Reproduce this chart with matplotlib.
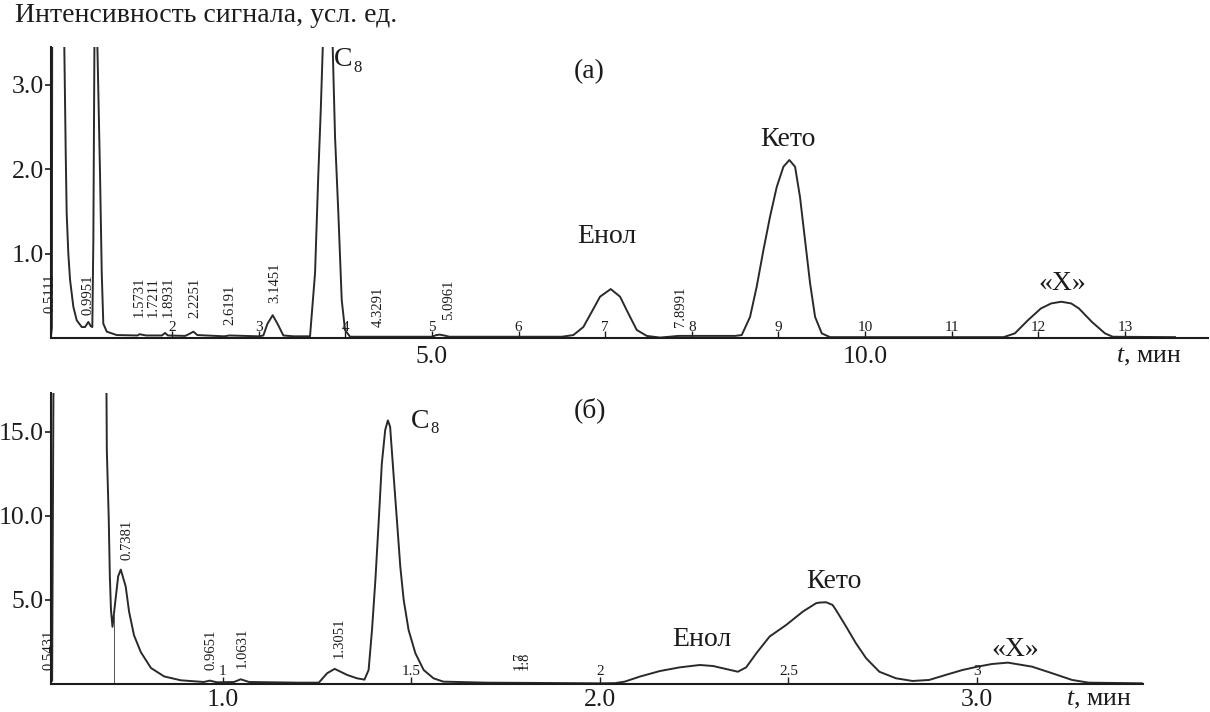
import matplotlib
matplotlib.use("Agg")
import matplotlib.pyplot as plt
import numpy as np

plt.rcParams['font.family'] = ['Liberation Serif', 'DejaVu Serif']
plt.rcParams['mathtext.fontset'] = 'custom'
plt.rcParams['mathtext.rm'] = 'Liberation Serif'
plt.rcParams['mathtext.it'] = 'Liberation Serif:italic'

# --- chromatogram (a): time, min / signal, arb. units
top_t = [0.603, 0.610, 0.616, 0.745, 0.754, 0.770, 0.781, 0.800, 0.820, 0.858,
         0.897, 0.955, 0.993, 1.031, 1.059, 1.077, 1.089, 1.101, 1.120, 1.136,
         1.147, 1.166, 1.186, 1.204, 1.244, 1.359, 1.600, 1.620, 1.700, 1.880,
         1.917, 1.950, 2.150, 2.200, 2.244, 2.290, 2.600, 2.660, 3.000, 3.052,
         3.100, 3.160, 3.220, 3.283, 3.400, 3.591, 3.649, 3.687, 3.715, 3.738,
         3.796, 3.853, 3.880, 3.918, 3.957, 3.995, 4.053, 5.000, 5.050, 5.090,
         5.140, 5.200, 6.500, 6.632, 6.747, 6.844, 6.940, 7.063, 7.171, 7.267,
         7.364, 7.479, 7.633, 7.850, 8.500, 8.576, 8.672, 8.749, 8.826, 8.903,
         8.980, 9.057, 9.126, 9.192, 9.249, 9.307, 9.365, 9.423, 9.500, 9.596,
         11.60, 11.73, 11.88, 12.03, 12.15, 12.265, 12.38, 12.47, 12.62, 12.77,
         12.86, 13.58]
top_v = [0.05, 0.12, 6.0, 6.0, 3.43, 2.19, 1.48, 1.00, 0.69, 0.37,
         0.21, 0.13, 0.13, 0.19, 0.14, 0.13, 1.16, 3.41, 6.0, 3.44,
         2.90, 1.95, 0.77, 0.17, 0.075, 0.035, 0.03, 0.045, 0.03, 0.03,
         0.06, 0.03, 0.025, 0.05, 0.075, 0.035, 0.02, 0.03, 0.02, 0.03,
         0.17, 0.27, 0.16, 0.03, 0.02, 0.02, 0.77, 1.95, 2.70, 3.44,
         8.0, 3.44, 2.38, 1.48, 0.45, 0.095, 0.015, 0.015, 0.035, 0.04,
         0.03, 0.015, 0.015, 0.035, 0.13, 0.31, 0.49, 0.58, 0.49, 0.29,
         0.095, 0.025, 0.005, 0.025, 0.025, 0.035, 0.25, 0.61, 1.04, 1.44,
         1.79, 2.03, 2.11, 2.03, 1.67, 1.16, 0.65, 0.25, 0.055, 0.01,
         0.01, 0.055, 0.21, 0.35, 0.41, 0.43, 0.41, 0.35, 0.19, 0.055,
         0.015, 0.01]
top_minutes = list(range(2, 14))
top_rt_labels = ['0.5111', '0.9951', '1.5731', '1.7211', '1.8931', '2.2251',
                 '2.6191', '3.1451', '4.3291', '5.0961', '7.8991']
top_rt_t = [0.589, 1.031, 1.617, 1.782, 1.955, 2.263, 2.667, 3.187, 4.38, 5.188, 7.87]
top_rt_v = [0.30, 0.27, 0.25, 0.25, 0.25, 0.24, 0.15, 0.41, 0.13, 0.21, 0.13]

# --- chromatogram (б)
bot_t = [0.548, 0.553, 0.690, 0.693, 0.698, 0.701, 0.704, 0.708, 0.717, 0.723,
         0.730, 0.743, 0.752, 0.765, 0.783, 0.810, 0.845, 0.889, 0.950, 0.966,
         0.985, 1.030, 1.048, 1.070, 1.200, 1.255, 1.277, 1.297, 1.330, 1.356,
         1.376, 1.387, 1.396, 1.405, 1.414, 1.422, 1.431, 1.438, 1.444, 1.453,
         1.462, 1.471, 1.480, 1.493, 1.511, 1.533, 1.559, 1.585, 1.700, 2.000,
         2.040, 2.066, 2.106, 2.159, 2.212, 2.265, 2.300, 2.335, 2.366, 2.388,
         2.415, 2.450, 2.494, 2.538, 2.573, 2.582, 2.600, 2.617, 2.626, 2.653,
         2.679, 2.706, 2.741, 2.785, 2.829, 2.873, 2.917, 2.961, 3.001, 3.040,
         3.082, 3.146, 3.199, 3.252, 3.296, 3.437]
bot_v = [0.2, 25.0, 25.0, 13.9, 9.9, 6.4, 4.4, 3.4, 5.2, 6.4,
         6.8, 5.8, 4.3, 2.9, 1.9, 0.95, 0.45, 0.22, 0.12, 0.2,
         0.1, 0.12, 0.28, 0.12, 0.08, 0.08, 0.64, 0.9, 0.54, 0.34,
         0.26, 0.83, 3.21, 6.19, 9.76, 13.1, 15.1, 15.67, 15.3, 12.5,
         9.76, 6.98, 5.0, 3.21, 1.83, 0.83, 0.34, 0.14, 0.08, 0.04,
         0.05, 0.14, 0.44, 0.77, 0.99, 1.13, 1.07, 0.89, 0.73, 0.99,
         1.83, 2.82, 3.51, 4.30, 4.80, 4.84, 4.86, 4.70, 4.40, 3.41,
         2.42, 1.53, 0.73, 0.34, 0.18, 0.24, 0.54, 0.83, 1.03, 1.19,
         1.27, 1.03, 0.64, 0.24, 0.08, 0.04]
bot_marks = [1.0, 1.5, 2.0, 2.5, 3.0]
bot_mark_labels = ['1', '1.5', '2', '2.5', '3']
bot_drop_t = [0.712]
bot_rt_labels = ['0.5431', '0.7381', '0.9651', '1.0631', '1.3051', '1.7', '1.8']
bot_rt_t = [0.540, 0.746, 0.968, 1.052, 1.308, 1.786, 1.800]
bot_rt_v = [0.83, 7.38, 0.83, 0.95, 1.55, 0.83, 0.83]

W, H = 1210, 712
INK = '#1c1c1c'
LINE = '#2a2a2a'
TICK_FS = 18.5
ANN_FS = 20
SMALL_FS = 11


def rect(left, right, top, bottom):
    return [left / W, 1 - bottom / H, (right - left) / W, (bottom - top) / H]


def px(x, y):
    return x / W, 1 - y / H


fig = plt.figure(figsize=(W / 100, H / 100), dpi=100)
ax1 = fig.add_axes(rect(51, 1208, 47, 338))
ax2 = fig.add_axes(rect(51, 1143, 393, 684))

for ax in (ax1, ax2):
    for s in ('top', 'right'):
        ax.spines[s].set_visible(False)
    for s in ('left', 'bottom'):
        ax.spines[s].set_linewidth(1.5)
        ax.spines[s].set_color(INK)
    ax.tick_params(axis='y', direction='out', length=4, width=1.2,
                   labelsize=TICK_FS, pad=1, colors=INK)
    ax.tick_params(axis='x', which='both', direction='in', length=5,
                   width=1, colors=INK)
    ax.tick_params(axis='x', which='major', labelsize=TICK_FS)

# panel (a)
ax1.plot(top_t, top_v, color=LINE, lw=1.4)
ax1.set_xlim(0.600, 13.96)
ax1.set_ylim(0, 3.45)
ax1.set_yticks([1, 2, 3])
ax1.set_yticklabels(['1.0', '2.0', '3.0'])
ax1.set_xticks([5, 10])
ax1.set_xticklabels(['5.0', '10.0'])
ax1.set_xticks(top_minutes, minor=True)
ax1.tick_params(axis='x', which='major', pad=5.5)
for m in top_minutes:
    ax1.text(m, 0.13, str(m), ha='center', va='center', fontsize=SMALL_FS, color=INK)
for lab, t, v in zip(top_rt_labels, top_rt_t, top_rt_v):
    ax1.text(t, v, lab, rotation=90, ha='center', va='bottom', fontsize=10.5, color=INK)

# panel (б)
ax2.plot(bot_t, bot_v, color=LINE, lw=1.4)
ax2.vlines(bot_drop_t, 0, np.interp(bot_drop_t, bot_t, bot_v), color='#555555', lw=0.7)
ax2.set_xlim(0.545, 3.44)
ax2.set_ylim(0, 17.3)
ax2.set_yticks([5, 10, 15])
ax2.set_yticklabels(['5.0', '10.0', '15.0'])
ax2.set_xticks([1, 2, 3])
ax2.set_xticklabels(['1.0', '2.0', '3.0'])
ax2.set_xticks(bot_marks, minor=True)
ax2.tick_params(axis='x', which='major', pad=3.5)
for m, lab in zip(bot_marks, bot_mark_labels):
    ax2.text(m, 0.75, lab, ha='center', va='center', fontsize=SMALL_FS, color=INK)
for lab, t, v in zip(bot_rt_labels, bot_rt_t, bot_rt_v):
    ax2.text(t, v, lab, rotation=90, ha='center', va='bottom', fontsize=10.5, color=INK)

# annotations
big = dict(fontsize=ANN_FS, color=INK, ha='center', va='center')
sub = dict(fontsize=12, color=INK, ha='left', va='center')
fig.text(*px(15, 15), 'Интенсивность сигнала, усл. ед.', fontsize=ANN_FS, color=INK,
         ha='left', va='center')
fig.text(*px(343, 60), 'C', **big)
fig.text(*px(353, 68), '8', **sub)
fig.text(*px(589, 72), '(а)', **big)
fig.text(*px(607, 237), 'Енол', **big)
fig.text(*px(788, 139), 'Кето', **big)
fig.text(*px(1062, 284), '«X»', **big)
fig.text(*px(1181, 357), r'$\mathit{t}$, мин', fontsize=TICK_FS, color=INK, ha='right', va='center')

fig.text(*px(420, 421), 'C', **big)
fig.text(*px(430, 429), '8', **sub)
fig.text(*px(590, 410), '(б)', **big)
fig.text(*px(702, 640), 'Енол', **big)
fig.text(*px(834, 581), 'Кето', **big)
fig.text(*px(1015, 650), '«X»', **big)
fig.text(*px(1131, 700), r'$\mathit{t}$, мин', fontsize=TICK_FS, color=INK, ha='right', va='center')

fig.savefig('out.png', dpi=100)
